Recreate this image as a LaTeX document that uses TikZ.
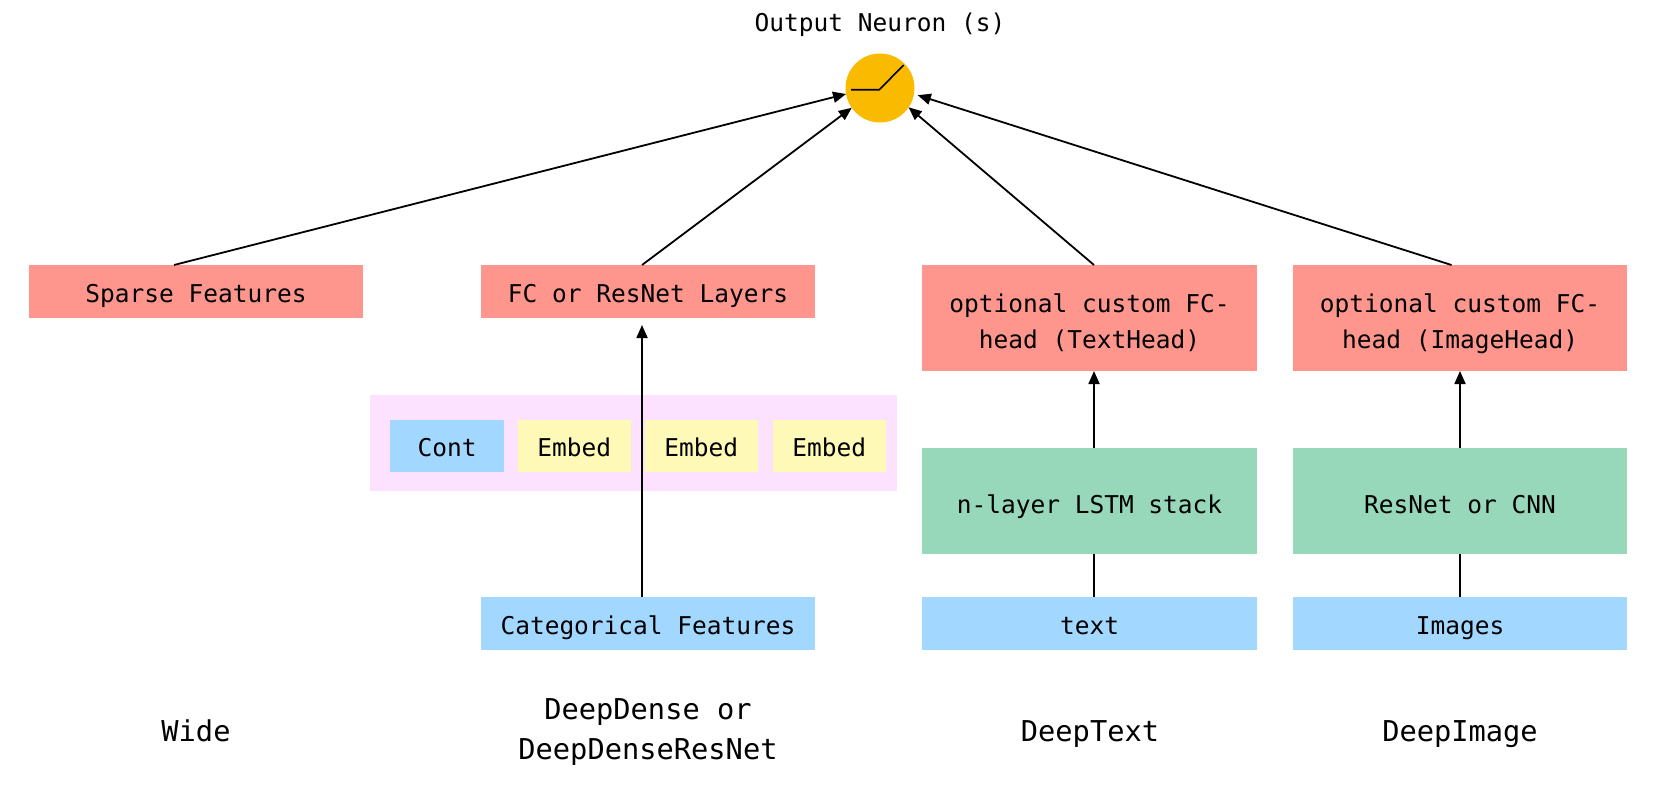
\documentclass[tikz,border=0pt]{standalone}
\usepackage{fontspec}
\setmainfont{DejaVu Sans Mono}
\usetikzlibrary{arrows.meta}
\definecolor{redbox}{HTML}{FF968D}
\definecolor{greenbox}{HTML}{96D8B9}
\definecolor{bluebox}{HTML}{A2D8FF}
\definecolor{pinkbox}{HTML}{FDE2FF}
\definecolor{yellowbox}{HTML}{FFF9B8}
\definecolor{neuron}{HTML}{F9BA00}
\tikzset{
  box/.style={anchor=north west,inner sep=0pt,outer sep=0pt,align=center,
    font=\fontsize{24.5}{36}\selectfont},
  colbox/.style={box,minimum width=335pt},
  hBig/.style={minimum height=106pt},
  hSmall/.style={minimum height=53pt},
  oneline/.style={text height=21pt,text depth=0pt},
  midline/.style={text height=24pt,text depth=0pt},
  twoline/.style={text height=61.4pt,text depth=0pt},
  tinybox/.style={box,minimum width=112.5pt,minimum height=52pt,text height=20pt,text depth=0pt},
  caption/.style={inner sep=0pt,align=center,font=\fontsize{28.7}{40}\selectfont,text height=20pt,text depth=0pt},
  arrowline/.style={line width=1.8pt,-{Triangle[length=13pt,width=11pt]}},
  plainline/.style={line width=1.8pt}
}
\begin{document}
\begin{tikzpicture}[x=1pt,y=-1pt]
\useasboundingbox (0,0) rectangle (1662,796);
% output neuron
\node[anchor=base,inner sep=0pt,font=\fontsize{24.5}{30}\selectfont] (outlabel) at (880,31.7) {Output Neuron (s)};
\node[circle,fill=neuron,minimum size=69pt,inner sep=0pt,outer sep=0pt] (out) at (880,88) {};
\coordinate (actA) at (851,89.7);
\coordinate (actB) at (879.3,89.7);
\coordinate (actC) at (903.7,65);
\draw[line width=1.6pt] (actA) -- (actB) -- (actC);
% top row
\node[colbox,hSmall,oneline,fill=redbox,minimum width=334pt] (sparse) at (29,265) {Sparse Features};
\node[colbox,hSmall,oneline,fill=redbox,minimum width=334pt] (fc) at (481,265) {FC or ResNet Layers};
\node[colbox,hBig,twoline,fill=redbox] (thead) at (922,265) {optional custom FC-\\head (TextHead)};
\node[colbox,hBig,twoline,fill=redbox,minimum width=334pt] (ihead) at (1293,265) {optional custom FC-\\head (ImageHead)};
% concat group
\node[box,minimum width=527pt,minimum height=96pt,fill=pinkbox] (group) at (370,395) {};
\node[tinybox,fill=bluebox,minimum width=114pt] (cont) at (390,420) {Cont};
\node[tinybox,fill=yellowbox] (emba) at (518,420) {Embed};
\node[tinybox,fill=yellowbox] (embb) at (645,420) {Embed};
\node[tinybox,fill=yellowbox] (embc) at (773,420) {Embed};
% middle row
\node[colbox,hBig,midline,fill=greenbox] (lstm) at (922,448) {n-layer LSTM stack};
\node[colbox,hBig,midline,fill=greenbox,minimum width=334pt] (cnn) at (1293,448) {ResNet or CNN};
% inputs
\node[colbox,hSmall,oneline,fill=bluebox,minimum width=334pt] (cat) at (481,597) {Categorical Features};
\node[colbox,hSmall,oneline,fill=bluebox] (text) at (922,597) {text};
\node[colbox,hSmall,oneline,fill=bluebox,minimum width=334pt] (img) at (1293,597) {Images};
% captions
\node[caption] (capw) at (196,731) {Wide};
\node[caption,text height=57pt] (capd) at (648,731) {DeepDense or\\DeepDenseResNet};
\node[caption] (capt) at (1090,731) {DeepText};
\node[caption] (capi) at (1460,731) {DeepImage};
% connectors
\draw[arrowline] ([xshift=-22pt]sparse.north) -- (out.190);
\draw[arrowline] ([xshift=-6pt]fc.north) -- (out.215);
\draw[arrowline] ([xshift=4.5pt]thead.north) -- (out.-34);
\draw[arrowline,shorten >=4pt] ([xshift=-8.5pt]ihead.north) -- (out.-10);
\draw[arrowline,shorten >=7pt] ([xshift=-6pt]cat.north) -- ([xshift=-6pt]fc.south);
\draw[arrowline] ([xshift=4.5pt]lstm.north) -- ([xshift=4.5pt]thead.south);
\draw[arrowline] (cnn.north) -- (ihead.south);
\draw[plainline] ([xshift=4.5pt]text.north) -- ([xshift=4.5pt]lstm.south);
\draw[plainline] (img.north) -- (cnn.south);
\end{tikzpicture}
\end{document}
